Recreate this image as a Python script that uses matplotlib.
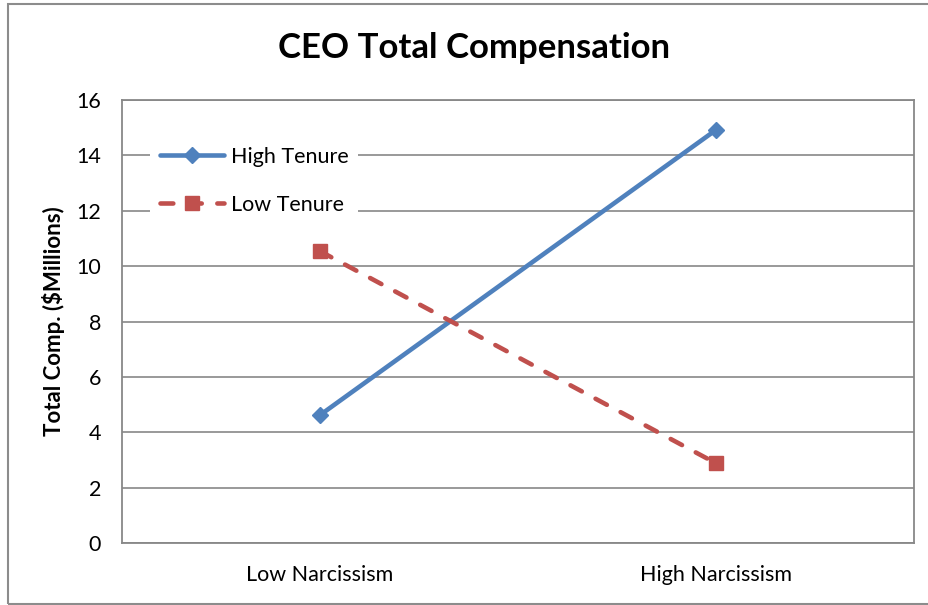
import matplotlib
matplotlib.use("Agg")
import matplotlib.pyplot as plt
from matplotlib.patches import Rectangle

# data
CATEGORIES = ["Low Narcissism", "High Narcissism"]
HIGH_TENURE = [4.62, 14.92]
LOW_TENURE = [10.54, 2.88]
Y_TICKS = [0, 2, 4, 6, 8, 10, 12, 14, 16]

BLUE = "#4F81BD"
RED = "#C0504D"
GRID = "#888888"
FONT = ["Lato", "DejaVu Sans"]

W, H = 929, 605


def main() -> None:
    plt.rcParams.update({"font.family": FONT})

    fig = plt.figure(figsize=(W / 100, H / 100), dpi=100)
    fig.patch.set_facecolor("white")

    # outer chart border
    fig.patches.append(
        Rectangle(
            (8 / W, 1 - 604 / H),
            1.0,
            600 / H,
            transform=fig.transFigure,
            fill=False,
            edgecolor="#8C8C8C",
            linewidth=1.5,
            zorder=0,
        )
    )

    ax = fig.add_axes([122 / W, 1 - 543 / H, (914 - 122) / W, (543 - 100) / H])
    x = list(range(len(CATEGORIES)))

    ax.plot(
        x, HIGH_TENURE,
        color=BLUE, linewidth=3.3, marker="D", markersize=8.5,
        label="High Tenure", zorder=3, solid_capstyle="round",
    )
    ax.plot(
        x, LOW_TENURE,
        color=RED, linewidth=3.3, marker="s", markersize=9.5,
        linestyle=(0, (2.8, 3.4)), dash_capstyle="round",
        label="Low Tenure", zorder=3,
    )

    ax.set_xlim(-0.5, 1.5)
    ax.set_ylim(0, 16)
    ax.set_yticks(Y_TICKS)
    ax.set_xticks(x)
    ax.set_xticklabels(CATEGORIES)
    ax.tick_params(axis="both", length=0, labelsize=15.5)
    ax.tick_params(axis="y", pad=15)
    ax.tick_params(axis="x", pad=16)

    ax.grid(axis="y", color=GRID, linewidth=1.2, zorder=0)
    ax.set_axisbelow(True)
    for spine in ax.spines.values():
        spine.set_color(GRID)
        spine.set_linewidth(1.3)

    ax.set_ylabel("Total Comp. ($Millions)", fontsize=16, fontweight="bold", labelpad=8)
    fig.text(474 / W, 1 - 48 / H, "CEO Total Compensation",
             fontsize=25, fontweight="bold", ha="center", va="center")

    leg = ax.legend(
        loc="upper left",
        bbox_to_anchor=(0.022, 0.94),
        fontsize=15.5,
        frameon=True,
        facecolor="white",
        edgecolor="none",
        framealpha=1.0,
        fancybox=False,
        handlelength=3.0,
        handletextpad=0.3,
        labelspacing=1.28,
        borderpad=0.45,
    )
    leg.set_zorder(5)

    fig.savefig("out.png", dpi=100)


if __name__ == "__main__":
    main()
